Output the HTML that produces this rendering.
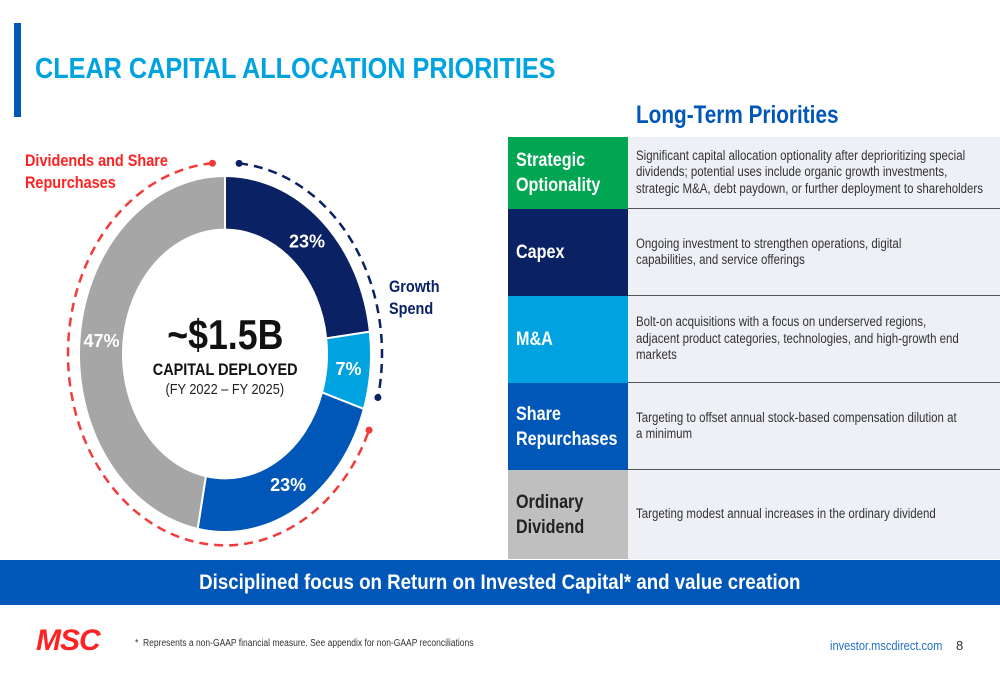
<!DOCTYPE html>
<html><head><meta charset="utf-8"><style>
body{margin:0;width:1000px;height:685px;background:#fff;position:relative;overflow:hidden;font-family:"Liberation Sans",sans-serif}
.abs{position:absolute}
.sx{display:inline-block;transform:scaleX(0.85);transform-origin:left center;white-space:nowrap}
.lbl{position:absolute;left:508px;width:120px;color:#fff;font-weight:bold;font-size:19px;line-height:25px;display:flex;align-items:center;padding-left:8px;box-sizing:border-box}
.txt{position:absolute;left:628px;width:372px;background:#eef0f6;color:#333;font-size:13.5px;line-height:16.5px;display:flex;align-items:center;padding-left:8px;box-sizing:border-box;border-bottom:1.5px solid #555;overflow:hidden}
.txt span{display:block;flex:0 0 430px;width:430px;white-space:nowrap;transform:scaleX(0.85);transform-origin:left center}
</style></head><body>
<div class="abs" style="left:14px;top:23px;width:7px;height:94px;background:#0057b8"></div>
<div class="abs" style="left:35px;top:53px;font-size:29px;font-weight:bold;color:#00a3e0"><span class="sx" style="transform:scaleX(0.87)">CLEAR CAPITAL ALLOCATION PRIORITIES</span></div>
<div class="abs" style="left:636px;top:101px;font-size:25px;font-weight:bold;color:#0057b8"><span class="sx" style="transform:scaleX(0.83)">Long-Term Priorities</span></div>

<div class="lbl" style="top:137px;height:72px;background:#00a651"><span class="sx">Strategic<br>Optionality</span></div>
<div class="txt" style="top:137px;height:72px"><span>Significant capital allocation optionality after deprioritizing special<br>dividends; potential uses include organic growth investments,<br>strategic M&amp;A, debt paydown, or further deployment to shareholders</span></div>
<div class="lbl" style="top:209px;height:87px;background:#0a2164"><span class="sx">Capex</span></div>
<div class="txt" style="top:209px;height:87px"><span>Ongoing investment to strengthen operations, digital<br>capabilities, and service offerings</span></div>
<div class="lbl" style="top:296px;height:87px;background:#00a3e0"><span class="sx">M&amp;A</span></div>
<div class="txt" style="top:296px;height:87px"><span>Bolt-on acquisitions with a focus on underserved regions,<br>adjacent product categories, technologies, and high-growth end<br>markets</span></div>
<div class="lbl" style="top:383px;height:87px;background:#0057b8"><span class="sx">Share<br>Repurchases</span></div>
<div class="txt" style="top:383px;height:87px"><span>Targeting to offset annual stock-based compensation dilution at<br>a minimum</span></div>
<div class="lbl" style="top:470px;height:89px;background:#bfbfbf;color:#222"><span class="sx">Ordinary<br>Dividend</span></div>
<div class="txt" style="top:470px;height:89px;border-bottom:none"><span>Targeting modest annual increases in the ordinary dividend</span></div>

<div class="abs" style="left:0;top:560px;width:1000px;height:45px;background:#0057b8;color:#fff;font-weight:bold;font-size:21px;line-height:45px;text-align:center"><span class="sx" style="transform:scaleX(0.89);transform-origin:center">Disciplined focus on Return on Invested Capital* and value creation</span></div>

<div class="abs" style="left:36px;top:624px;font-size:30px;font-weight:bold;font-style:italic;color:#f22;letter-spacing:-1px">MSC</div>
<div class="abs" style="left:135px;top:638px;font-size:10px;color:#333"><span class="sx">*&nbsp; Represents a non-GAAP financial measure. See appendix for non-GAAP reconciliations</span></div>
<div class="abs" style="left:830px;top:638px;font-size:13px;color:#1f6fc5"><span class="sx">investor.mscdirect.com</span></div>
<div class="abs" style="left:956px;top:638px;font-size:13px;color:#333">8</div>

<svg class="abs" style="left:0;top:0" width="500" height="560">
<g id="g"></g>
</svg>
<script>
const categories=["Capex","M&A","Share Repurchases","Dividends"];
const values=[23,7,23,47];
const labels=["23%","7%","23%","47%"];
const colors=["#0a2164","#00a3e0","#0057b8","#a6a6a6"];
const cx=225,cy=354,ky=1.219,R=146,r=102;
const NS="http://www.w3.org/2000/svg";
const g=document.getElementById('g');
function pt(a,rad){return [cx+rad*Math.sin(a),cy-rad*ky*Math.cos(a)];}
const total=values.reduce((a,b)=>a+b,0);
let acc=0;
values.forEach((v,i)=>{
 const a0=acc/total*2*Math.PI,a1=(acc+v)/total*2*Math.PI;acc+=v;
 const big=(a1-a0)>Math.PI?1:0;
 const p0=pt(a0,R),p1=pt(a1,R),q1=pt(a1,r),q0=pt(a0,r);
 const p=document.createElementNS(NS,'path');
 p.setAttribute('d',`M${p0}A${R},${R*ky} 0 ${big} 1 ${p1}L${q1}A${r},${r*ky} 0 ${big} 0 ${q0}Z`);
 p.setAttribute('fill',colors[i]);p.setAttribute('stroke','#fff');p.setAttribute('stroke-width','2');
 
 
 g.appendChild(p);
 const m=pt((a0+a1)/2,124);
 const t=document.createElementNS(NS,'text');
 t.setAttribute('x',m[0]);t.setAttribute('y',m[1]+7);t.setAttribute('text-anchor','middle');
 t.setAttribute('fill','#fff');t.setAttribute('font-size','18');t.setAttribute('font-weight','bold');
 t.setAttribute('font-family','"Liberation Sans",sans-serif');
 t.textContent=labels[i];
 
 
 g.appendChild(t);
});
function dash(a0,a1,sweep,col,name){
 const Rd=157;const p0=pt(a0,Rd),p1=pt(a1,Rd);
 let span=sweep?a1-a0:a0-a1;if(span<0)span+=2*Math.PI;
 const p=document.createElementNS(NS,'path');
 p.setAttribute('d',`M${p0}A${Rd},${Rd*ky} 0 ${span>Math.PI?1:0} ${sweep} ${p1}`);
 p.setAttribute('fill','none');p.setAttribute('stroke',col);p.setAttribute('stroke-width','2.5');p.setAttribute('stroke-dasharray','9 6');
 
 
 g.appendChild(p);
 [p0,p1].forEach(q=>{const c=document.createElementNS(NS,'circle');c.setAttribute('cx',q[0]);c.setAttribute('cy',q[1]);c.setAttribute('r','3.5');c.setAttribute('fill',col);
 
 
 g.appendChild(c);});
}
dash(-0.08,1.98,0,'#f23b3b','shareholder-return-bracket');
dash(0.09,1.8,1,'#0a2164','growth-spend-bracket');
</script>
<div class="abs" style="left:25px;top:150px;font-size:17px;font-weight:bold;color:#f22;line-height:22px"><span class="sx">Dividends and Share<br>Repurchases</span></div>
<div class="abs" style="left:389px;top:276px;font-size:17px;font-weight:bold;color:#0a2164;line-height:22px"><span class="sx">Growth<br>Spend</span></div>
<div class="abs" style="left:125px;top:311px;width:200px;text-align:center;font-size:42px;font-weight:bold;color:#111"><span class="sx" style="transform-origin:center">~$1.5B</span></div>
<div class="abs" style="left:125px;top:360px;width:200px;text-align:center;font-size:17px;font-weight:bold;color:#111"><span class="sx" style="transform-origin:center">CAPITAL DEPLOYED</span></div>
<div class="abs" style="left:125px;top:381px;width:200px;text-align:center;font-size:15px;color:#222"><span class="sx" style="transform-origin:center">(FY 2022 – FY 2025)</span></div>
</body></html>
